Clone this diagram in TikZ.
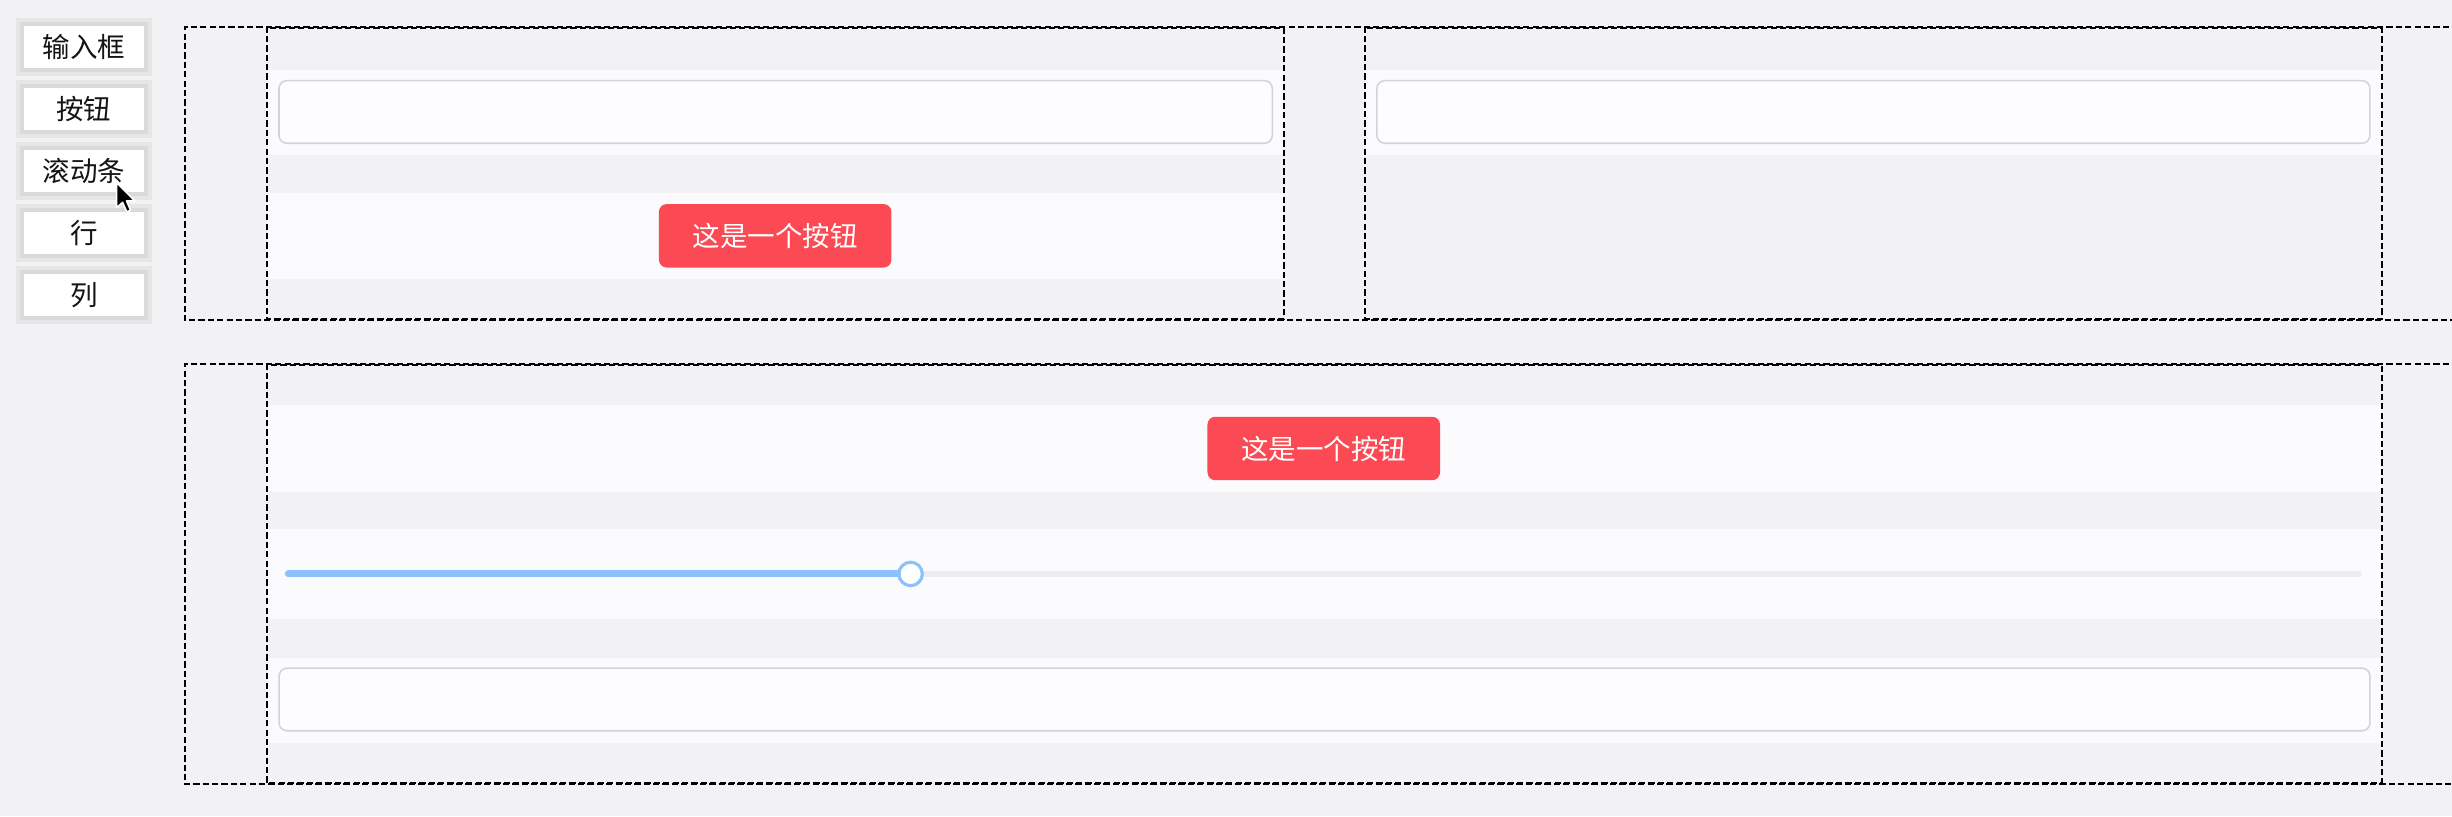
\documentclass[tikz,border=0pt]{standalone}
\usepackage{fontspec}
\setmainfont{Noto Sans CJK SC}
\definecolor{bgc}{HTML}{F2F2F4}
\definecolor{bandc}{HTML}{FBFBFD}
\definecolor{inputc}{HTML}{FDFDFF}
\definecolor{inputb}{HTML}{D3D3D8}
\definecolor{redc}{HTML}{FB4A53}
\definecolor{bluec}{HTML}{8BC2FC}
\definecolor{trackc}{HTML}{ECEDF0}
\definecolor{haloa}{HTML}{E6E6E7}
\definecolor{halob}{HTML}{DADADB}
\tikzset{
  txt/.style={font=\fontsize{17.6pt}{20pt}\selectfont},
  tbtn/.style={txt, fill=white, minimum width=76.8pt, minimum height=26.8pt, inner sep=0pt, text=black!92},
  redbtn/.style={txt, fill=redc, text=white, rounded corners=5pt, minimum width=148.7pt, minimum height=40.6pt, inner sep=0pt},
  inputbox/.style={fill=inputc, draw=inputb, line width=1pt, rounded corners=5pt, minimum height=40pt, inner sep=0pt},
  dashbox/.style={draw=black, line width=1.25pt, dash pattern=on 4pt off 2pt},
  coldash/.style={dashbox, dash phase=1pt},
  band/.style={fill=bandc}
}
\begin{document}
\begin{tikzpicture}[x=1pt,y=-1pt]
\useasboundingbox (0,0) rectangle (1568,522);
\clip (0,0) rectangle (1568,522);
\fill[bgc] (0,0) rectangle (1568,522);

% toolbar
\foreach \n/\ya/\t in {tb1/16.6/输入框, tb2/56.3/按钮, tb3/95.9/滚动条, tb4/135.6/行, tb5/175.2/列}{
  \fill[haloa] (10.3,\ya-5) rectangle (97.1,\ya+31.8);
  \fill[halob] (12.6,\ya-2.7) rectangle (94.8,\ya+29.5);
  \node[tbtn] (\n) at (53.7,\ya+13.4) {\t};
}

% cursor
\filldraw[fill=black, draw=white, line width=1pt, line join=round]
  (74.6,116.8) -- ++(0,16) -- ++(3.8,-3.4) -- ++(2.7,6.1) -- ++(2.4,-1.1)
  -- ++(-2.6,-5.9) -- ++(5.2,-0.2) -- cycle;

% ---------- row 1 ----------
\fill[band] (170.5,44.8) rectangle (821,99.1);
\fill[band] (170.5,123.6) rectangle (821,178.6);
\fill[band] (873,44.8) rectangle (1523,99.1);
\node[inputbox, minimum width=635.2pt] (in1) at (496,71.6) {};
\node[inputbox, minimum width=635pt] (in2) at (1198,71.6) {};
\node[redbtn] (rb1) at (495.7,150.8) {这是一个按钮};

\draw[dashbox] (1590,17.5) -- (118,17.5) -- (118,204.6) -- (1590,204.6);
\draw[coldash] (170.5,18) rectangle (821,204.1);
\draw[coldash] (873,18) rectangle (1523,204.1);

% ---------- row 2 ----------
\fill[band] (170.5,259) rectangle (1523,314.4);
\fill[band] (170.5,338.5) rectangle (1523,396);
\fill[band] (170.5,421) rectangle (1523,475);
\node[redbtn] (rb2) at (846.5,286.8) {这是一个按钮};

\coordinate (s0) at (184.4,367);
\coordinate (s1) at (1508,367);
\draw[trackc, line width=4.3pt, line cap=round] (s0) -- (s1);
\node[circle, fill=white, draw=bluec, line width=2pt, minimum size=15pt, inner sep=0pt] (knob) at (582.3,367) {};
\draw[bluec, line width=4.5pt, line cap=round] (s0) -- (knob.west);

\node[inputbox, minimum width=1337pt] (in3) at (847,447.3) {};

\draw[dashbox] (1590,233) -- (118,233) -- (118,501.4) -- (1590,501.4);
\draw[coldash] (170.5,233.5) rectangle (1523,500.9);
\end{tikzpicture}
\end{document}
